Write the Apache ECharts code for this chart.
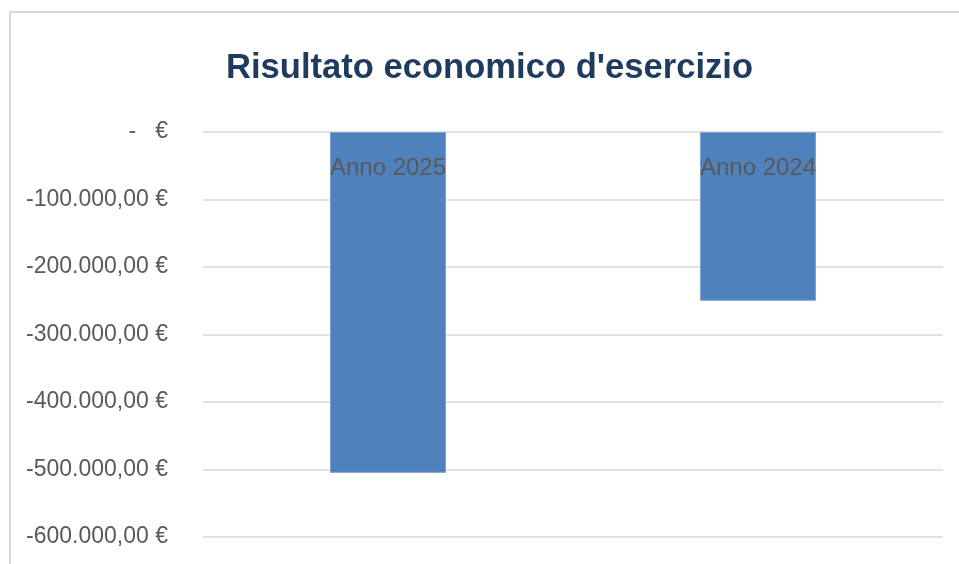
<!DOCTYPE html>
<html>
<head>
<meta charset="utf-8">
<script src="https://cdn.jsdelivr.net/npm/echarts@6/dist/echarts.min.js"></script>
<style>
html,body{margin:0;padding:0;background:#fff;}
#chart{width:959px;height:564px;}
</style>
</head>
<body>
<div id="chart"></div>
<script>
const titleText = "Risultato economico d'esercizio";
const categories = ['Anno 2025', 'Anno 2024'];
const values = [-505000, -250000];
const yMin = -600000;
const yMax = 0;
const yStep = 100000;

function fmtEuro(v) {
  if (v === 0) return '-   €';
  const neg = v < 0;
  const abs = Math.abs(v);
  const intPart = Math.floor(abs).toString().replace(/\B(?=(\d{3})+(?!\d))/g, '.');
  return (neg ? '-' : '') + intPart + ',00 €';
}

const font = '"Liberation Sans", sans-serif';
const chart = echarts.init(document.getElementById('chart'), null, {renderer: 'canvas'});
chart.setOption({
  animation: false,
  backgroundColor: '#ffffff',
  title: {
    text: titleText,
    left: 226,
    top: 51,
    padding: 0,
    textStyle: {fontFamily: font, fontSize: 34.6, fontWeight: 'bold', color: '#1F3B5E'}
  },
  graphic: [
    {type: 'line', shape: {x1: 10, y1: 12, x2: 959, y2: 12}, style: {stroke: '#d9d9d9', lineWidth: 2}},
    {type: 'line', shape: {x1: 10, y1: 12, x2: 10, y2: 564}, style: {stroke: '#d9d9d9', lineWidth: 2}}
  ],
  grid: {left: 203, right: 16, top: 132, bottom: 27, containLabel: false},
  xAxis: {
    type: 'category',
    data: categories,
    position: 'top',
    axisLine: {show: false},
    axisTick: {show: false},
    axisLabel: {show: false}
  },
  yAxis: {
    type: 'value',
    min: yMin,
    max: yMax,
    interval: yStep,
    axisLine: {show: false},
    axisTick: {show: false},
    axisLabel: {formatter: fmtEuro, margin: 35, fontFamily: font, fontSize: 23, color: '#595959'},
    splitLine: {lineStyle: {color: '#d9d9d9', width: 1.5}}
  },
  series: [{
    type: 'bar',
    data: values,
    barWidth: 116,
    itemStyle: {color: '#4F81BD', borderColor: '#7ea3d3', borderWidth: 1},
    label: {
      show: true,
      position: 'insideTop',
      distance: 24,
      formatter: '{b}',
      fontFamily: font,
      fontSize: 24,
      color: '#595959'
    }
  }]
});
</script>
</body>
</html>
